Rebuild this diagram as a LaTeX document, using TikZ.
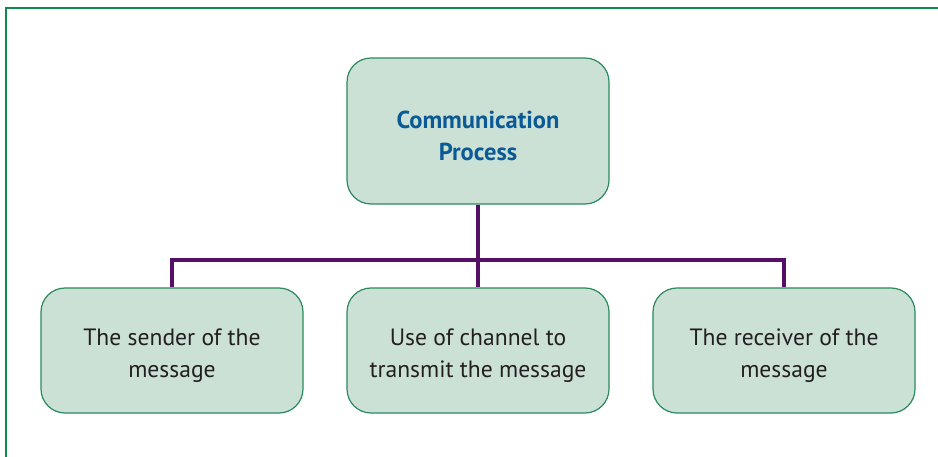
\documentclass[tikz,border=0pt]{standalone}
\usepackage{fontspec}
\setmainfont{PT Sans}
\definecolor{framegreen}{HTML}{0E8A4A}
\definecolor{boxfill}{HTML}{CCE1D6}
\definecolor{boxline}{HTML}{2A8A5E}
\definecolor{titleblue}{HTML}{0B5A96}
\definecolor{linkpurple}{HTML}{560F66}
\definecolor{bodytext}{HTML}{231F20}
\begin{document}
\begin{tikzpicture}[x=1pt,y=-1pt,
  card/.style={draw=boxline, line width=1.2pt, fill=boxfill, rounded corners=24pt,
    minimum width=262pt, minimum height=125pt, inner sep=0pt},
  cardtext/.style={align=center, inner sep=0pt, text=bodytext,
    font=\fontsize{23.6}{32}\selectfont, yshift=-5pt},
  titletext/.style={cardtext, text=titleblue, font=\bfseries\fontsize{24.5}{32}\selectfont},
  link/.style={draw=linkpurple, line width=4pt}]
\useasboundingbox (0,0) rectangle (938,457);
\fill[white] (0,0) rectangle (938,457);
% open frame along the top and left
\draw[framegreen, line width=2pt] (6,458) -- (6,8) -- (939,8);
% boxes
\node[card, minimum height=146pt,
  label={[titletext]center:Communication\\Process}] (top) at (478,131) {};
\node[card, label={[cardtext]center:The sender of the\\message}] (sender) at (172,350.5) {};
\node[card, label={[cardtext]center:Use of channel to\\transmit the message}] (channel) at (478,350.5) {};
\node[card, label={[cardtext]center:The receiver of the\\message}] (receiver) at (784,350.5) {};
% connectors
\coordinate (hub) at (478,260);
\draw[link] (top.south) -- (hub);
\draw[link] (sender.north) |- (hub) -| (receiver.north);
\draw[link] (hub) -- (channel.north);
\end{tikzpicture}
\end{document}
